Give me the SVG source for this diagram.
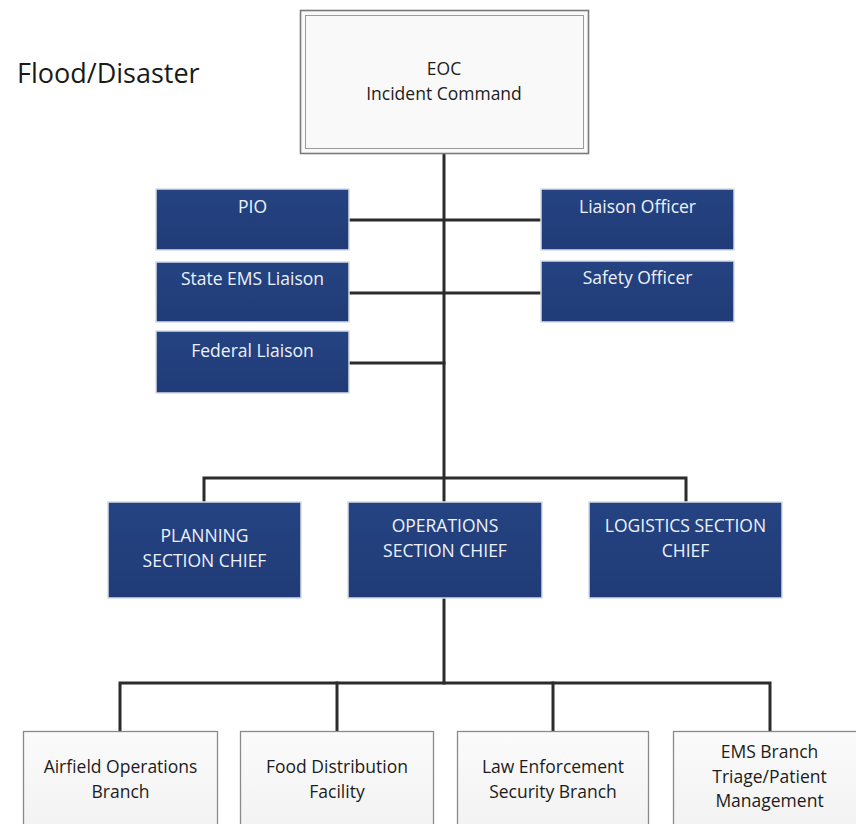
<svg xmlns="http://www.w3.org/2000/svg" width="856" height="824" viewBox="0 0 856 824">
  <defs>
    <linearGradient id="blueFill" x1="0" y1="0" x2="0" y2="1">
      <stop offset="0" stop-color="#254382"/>
      <stop offset="1" stop-color="#203b77"/>
    </linearGradient>
    <linearGradient id="paleFill" x1="0" y1="0" x2="0" y2="1">
      <stop offset="0" stop-color="#fbfbfb"/>
      <stop offset="1" stop-color="#f1f1f1"/>
    </linearGradient>
    <style>
      .blue { fill: url(#blueFill); stroke: #d6dce8; stroke-width: 1.5; }
      .pale { fill: url(#paleFill); stroke: #8a8a8a; stroke-width: 1.3; }
      .wt { font-family: "Open Sans", "Liberation Sans", sans-serif; font-size: 17.5px; fill: #eef2fa; text-anchor: middle; }
      .bt { font-family: "Open Sans", "Liberation Sans", sans-serif; font-size: 17.5px; fill: #1c1c1c; text-anchor: middle; }
      .link { stroke: #2b2b2b; stroke-width: 3; fill: none; stroke-linecap: square; }
    </style>
  </defs>

  <rect width="856" height="824" fill="#ffffff"/>

  <text x="17" y="83" font-family="Open Sans, Liberation Sans, sans-serif" font-size="27" fill="#1a1a1a">Flood/Disaster</text>

  <!-- connectors -->
  <g id="connectors">
    <path class="link" d="M444 154 V502"/>
    <path class="link" d="M349 220 H541"/>
    <path class="link" d="M349 293 H541"/>
    <path class="link" d="M349 363 H444"/>
    <path class="link" d="M204 502 V478 H686 V502"/>
    <path class="link" d="M444 598 V683"/>
    <path class="link" d="M120 731 V683 H770 V731"/>
    <path class="link" d="M337 683 V731"/>
    <path class="link" d="M553 683 V731"/>
  </g>

  <!-- top command -->
  <g id="eoc">
    <rect x="300.5" y="10.5" width="288" height="143" fill="#f9f9f9" stroke="#7a7a7a" stroke-width="1.6"/>
    <rect x="305.5" y="15.5" width="278" height="133" fill="none" stroke="#9a9a9a" stroke-width="1"/>
    <text class="bt" x="444" y="75">EOC</text>
    <text class="bt" x="444" y="100">Incident Command</text>
  </g>

  <!-- command staff -->
  <g id="pio">
    <rect class="blue" x="156" y="189" width="193" height="61"/>
    <text class="wt" x="252.5" y="213">PIO</text>
  </g>
  <g id="state-ems-liaison">
    <rect class="blue" x="156" y="262" width="193" height="60"/>
    <text class="wt" x="252.5" y="285">State EMS Liaison</text>
  </g>
  <g id="federal-liaison">
    <rect class="blue" x="156" y="331" width="193" height="62"/>
    <text class="wt" x="252.5" y="357">Federal Liaison</text>
  </g>
  <g id="liaison-officer">
    <rect class="blue" x="541" y="189" width="193" height="61"/>
    <text class="wt" x="637.5" y="213">Liaison Officer</text>
  </g>
  <g id="safety-officer">
    <rect class="blue" x="541" y="261" width="193" height="61"/>
    <text class="wt" x="637.5" y="284">Safety Officer</text>
  </g>

  <!-- section chiefs -->
  <g id="planning">
    <rect class="blue" x="108" y="502" width="193" height="96"/>
    <text class="wt" x="204.5" y="542">PLANNING</text>
    <text class="wt" x="204.5" y="567">SECTION CHIEF</text>
  </g>
  <g id="operations">
    <rect class="blue" x="348" y="502" width="194" height="96"/>
    <text class="wt" x="445" y="532">OPERATIONS</text>
    <text class="wt" x="445" y="557">SECTION CHIEF</text>
  </g>
  <g id="logistics">
    <rect class="blue" x="589" y="502" width="193" height="96"/>
    <text class="wt" x="685.5" y="532">LOGISTICS SECTION</text>
    <text class="wt" x="685.5" y="557">CHIEF</text>
  </g>

  <!-- operations branches -->
  <g id="airfield">
    <rect class="pale" x="23.5" y="731.5" width="194" height="110"/>
    <text class="bt" x="120.5" y="773">Airfield Operations</text>
    <text class="bt" x="120.5" y="798">Branch</text>
  </g>
  <g id="food">
    <rect class="pale" x="240.5" y="731.5" width="193" height="110"/>
    <text class="bt" x="337" y="773">Food Distribution</text>
    <text class="bt" x="337" y="798">Facility</text>
  </g>
  <g id="law">
    <rect class="pale" x="457.5" y="731.5" width="191" height="110"/>
    <text class="bt" x="553" y="773">Law Enforcement</text>
    <text class="bt" x="553" y="798">Security Branch</text>
  </g>
  <g id="ems">
    <rect class="pale" x="673.5" y="731.5" width="193" height="110"/>
    <text class="bt" x="769.5" y="758">EMS Branch</text>
    <text class="bt" x="769.5" y="783">Triage/Patient</text>
    <text class="bt" x="769.5" y="807">Management</text>
  </g>
</svg>
